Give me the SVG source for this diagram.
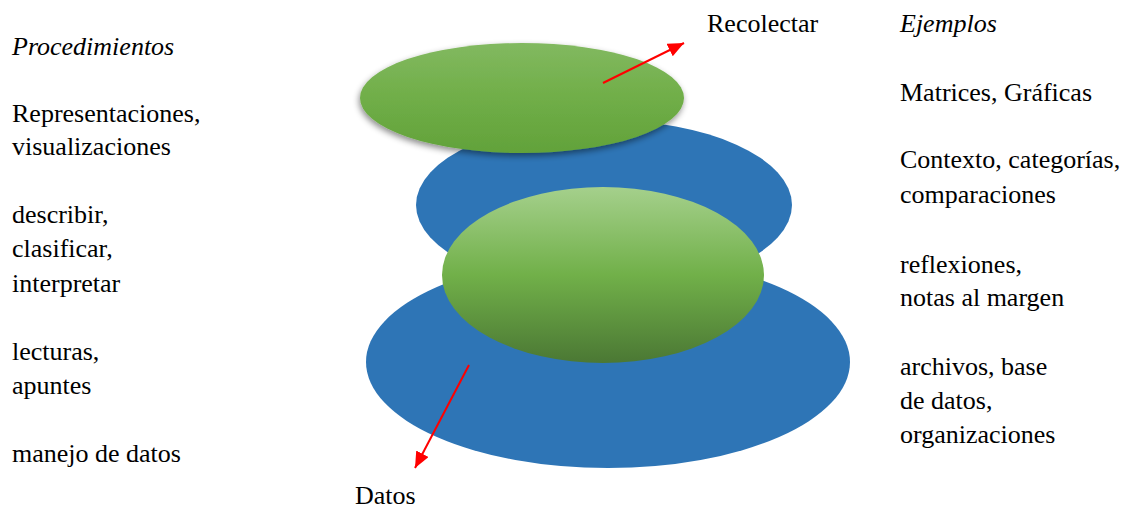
<svg xmlns="http://www.w3.org/2000/svg" width="1127" height="511" viewBox="0 0 1127 511">
  <style>
    .t { font-family: 'Liberation Serif', 'Times New Roman', Tinos, 'DejaVu Serif', serif; font-size: 26px; fill: #000; }
    .it { font-style: italic; }
    .blue { fill: #2e75b6; }
    .arrow { stroke: #ff0000; stroke-width: 2; fill: none; marker-end: url(#ah); }
  </style>
  <defs>
    <linearGradient id="gTop" x1="0" y1="0" x2="0" y2="1">
      <stop offset="0" stop-color="#82b960"/>
      <stop offset="0.5" stop-color="#70ae48"/>
      <stop offset="1" stop-color="#62a23a"/>
    </linearGradient>
    <linearGradient id="gMid" x1="0" y1="0" x2="0" y2="1">
      <stop offset="0" stop-color="#a5d08c"/>
      <stop offset="0.5" stop-color="#71b049"/>
      <stop offset="1" stop-color="#4b7834"/>
    </linearGradient>
    <filter id="shadow" x="-10%" y="-20%" width="120%" height="150%">
      <feDropShadow dx="-1" dy="3" stdDeviation="3" flood-color="#000" flood-opacity="0.45"/>
    </filter>
    <marker id="ah" markerUnits="userSpaceOnUse" markerWidth="18" markerHeight="16" refX="16" refY="7" orient="auto">
      <path d="M0,0 L16,7 L0,14 Z" fill="#ff0000"/>
    </marker>
  </defs>

  <g id="base-blue">
    <ellipse class="blue" cx="608" cy="362" rx="242" ry="106"/>
  </g>
  <g id="middle-blue">
    <ellipse class="blue" cx="604" cy="205" rx="188" ry="85"/>
  </g>
  <g id="top-green">
    <ellipse cx="522" cy="98" rx="162" ry="55" fill="url(#gTop)" filter="url(#shadow)"/>
  </g>
  <g id="middle-green">
    <ellipse cx="603" cy="275" rx="161" ry="88" fill="url(#gMid)"/>
  </g>

  <g id="connectors">
    <line class="arrow" x1="603" y1="83" x2="684" y2="43"/>
    <line class="arrow" x1="469" y1="365" x2="415" y2="468"/>
  </g>

  <g id="label-recolectar" font-family="Liberation Serif, serif"><text class="t" x="707" y="32">Recolectar</text></g>
  <g id="label-datos" font-family="Liberation Serif, serif"><text class="t" x="355" y="504">Datos</text></g>

  <g id="procedimientos" font-family="Liberation Serif, serif">
    <text class="t it" x="12" y="55">Procedimientos</text>
    <text class="t" x="12" y="122">Representaciones,</text>
    <text class="t" x="12" y="155">visualizaciones</text>
    <text class="t" x="12" y="223">describir,</text>
    <text class="t" x="12" y="257">clasificar,</text>
    <text class="t" x="12" y="292">interpretar</text>
    <text class="t" x="12" y="360">lecturas,</text>
    <text class="t" x="12" y="394">apuntes</text>
    <text class="t" x="12" y="462">manejo de datos</text>
  </g>

  <g id="ejemplos" font-family="Liberation Serif, serif">
    <text class="t it" x="900" y="32">Ejemplos</text>
    <text class="t" x="900" y="101">Matrices, Gráficas</text>
    <text class="t" x="900" y="168">Contexto, categorías,</text>
    <text class="t" x="900" y="203">comparaciones</text>
    <text class="t" x="900" y="273">reflexiones,</text>
    <text class="t" x="900" y="306">notas al margen</text>
    <text class="t" x="900" y="375">archivos, base</text>
    <text class="t" x="900" y="409">de datos,</text>
    <text class="t" x="900" y="443">organizaciones</text>
  </g>
</svg>
